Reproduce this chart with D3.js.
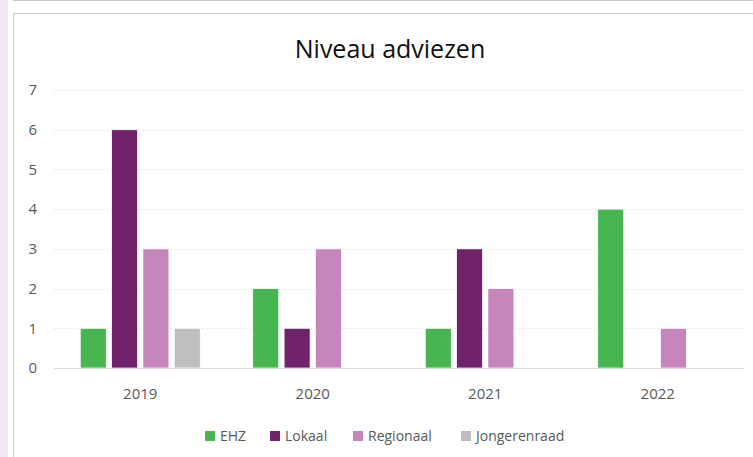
<!DOCTYPE html>
<html>
<head>
<meta charset="utf-8">
<title>Niveau adviezen</title>
<script src="https://cdn.jsdelivr.net/npm/d3@7/dist/d3.min.js"></script>
<style>
  html, body { margin: 0; padding: 0; background: #fff; }
  svg { display: block; font-family: "Open Sans", Lato, sans-serif; }
</style>
</head>
<body>
<svg id="chart" width="753" height="457"></svg>
<script>
// data
const years = ["2019", "2020", "2021", "2022"];
const series = ["EHZ", "Lokaal", "Regionaal", "Jongerenraad"];
const colors = ["#47b550", "#70226a", "#c786bb", "#bfbfbf"];
const EHZ = [1, 2, 1, 4];
const Lokaal = [6, 1, 3, 0];
const Regionaal = [3, 3, 2, 1];
const Jongerenraad = [1, 0, 0, 0];
const yTicks = [0, 1, 2, 3, 4, 5, 6, 7];

const values = [EHZ, Lokaal, Regionaal, Jongerenraad];

const svg = d3.select("#chart");

// frame bits around the chart (window edge + border)
svg.append("rect").attr("x", 0).attr("y", 0).attr("width", 8).attr("height", 457).attr("fill", "#f1e9f1");
svg.append("line").attr("x1", 13).attr("x2", 753).attr("y1", 0.5).attr("y2", 0.5).attr("stroke", "#c8c8c8");
svg.append("line").attr("x1", 13).attr("x2", 753).attr("y1", 13.5).attr("y2", 13.5).attr("stroke", "#c8c8c8");
svg.append("line").attr("x1", 13.5).attr("x2", 13.5).attr("y1", 13).attr("y2", 457).attr("stroke", "#c8c8c8");

const x = d3.scaleBand().domain(years).range([54, 744]);
const xi = d3.scaleBand().domain(series).range([-60, 60]).paddingInner(0.17);
const y = d3.scaleLinear().domain([0, 7]).range([368, 90]);

// title
svg.append("text")
  .attr("x", 390).attr("y", 58)
  .attr("text-anchor", "middle")
  .attr("font-size", 25)
  .attr("fill", "#111")
  .text("Niveau adviezen");

// gridlines
svg.append("g").selectAll("line")
  .data(yTicks.filter(d => d > 0))
  .join("line")
  .attr("x1", 54).attr("x2", 744)
  .attr("y1", d => Math.round(y(d)) + 0.5)
  .attr("y2", d => Math.round(y(d)) + 0.5)
  .attr("stroke", "#ececec")
  .attr("stroke-dasharray", "2,2");

// y axis labels
const yAxis = svg.append("g")
  .attr("transform", "translate(37,0)")
  .call(d3.axisLeft(y).tickValues(yTicks).tickFormat(d3.format("d")).tickSize(0).tickPadding(0));
yAxis.select(".domain").remove();
yAxis.selectAll("text")
  .attr("font-size", 15)
  .attr("fill", "#595959")
  .attr("font-family", "'Open Sans', Lato, sans-serif");

// bars
const groups = svg.append("g").selectAll("g")
  .data(years)
  .join("g")
  .attr("transform", d => `translate(${x(d) + x.bandwidth() / 2},0)`);

groups.selectAll("rect")
  .data((yr, i) => series.map((s, j) => ({ s, j, v: values[j][i] })).filter(d => d.v > 0))
  .join("rect")
  .attr("x", d => xi(d.s))
  .attr("width", xi.bandwidth())
  .attr("y", d => y(d.v))
  .attr("height", d => y(0) - y(d.v))
  .attr("fill", d => colors[d.j])
  .attr("stroke", "#fff")
  .attr("stroke-width", 0.75);

// x axis
const xAxis = svg.append("g")
  .attr("transform", `translate(0,${y(0)})`)
  .call(d3.axisBottom(x).tickSize(0).tickPadding(20));
xAxis.select(".domain").attr("stroke", "#d9d9d9").attr("stroke-width", 1.2);
xAxis.selectAll("text")
  .attr("font-size", 15)
  .attr("fill", "#595959")
  .attr("font-family", "'Open Sans', Lato, sans-serif");

// legend
const legendX = [205, 270, 353, 461];
const legend = svg.append("g").selectAll("g")
  .data(series)
  .join("g")
  .attr("transform", (d, i) => `translate(${legendX[i]},431)`);
legend.append("rect")
  .attr("width", 10).attr("height", 10)
  .attr("fill", (d, i) => colors[i]);
legend.append("text")
  .attr("x", 15).attr("y", 10)
  .attr("font-size", 14)
  .attr("fill", "#595959")
  .text(d => d);
</script>
</body>
</html>
